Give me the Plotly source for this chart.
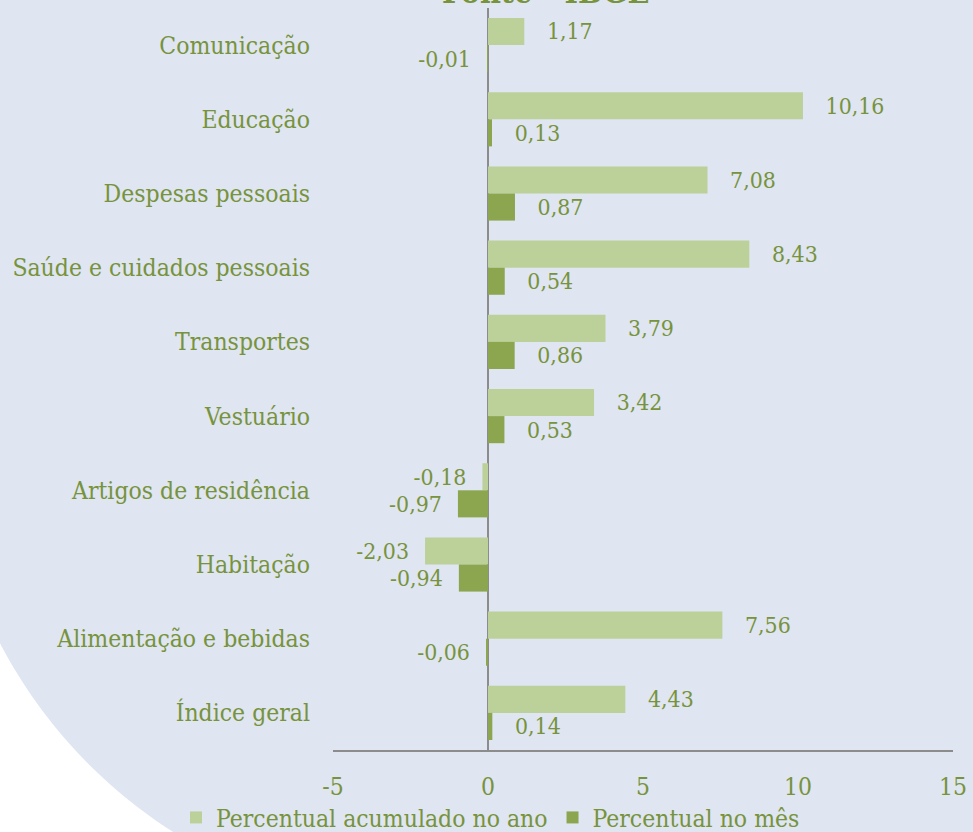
import math
import plotly.graph_objects as go

categories = ["Comunicação", "Educação", "Despesas pessoais", "Saúde e cuidados pessoais",
              "Transportes", "Vestuário", "Artigos de residência", "Habitação",
              "Alimentação e bebidas", "Índice geral"]
acumulado_ano = [1.17, 10.16, 7.08, 8.43, 3.79, 3.42, -0.18, -2.03, 7.56, 4.43]
mes = [-0.01, 0.13, 0.87, 0.54, 0.86, 0.53, -0.97, -0.94, -0.06, 0.14]
series_names = ["Percentual acumulado no ano", "Percentual no mês"]
x_ticks = [-5, 0, 5, 10, 15]
title_text = "Fonte - IBGE"

W, H = 973, 832
ML, MR, MT, MB = 333, 20, 8, 82
PW, PH = W - ML - MR, H - MT - MB

def px2x(px):
    return (px - ML) / PW

def py2y(py):
    return 1 - (py - MT) / PH

FONT = "DejaVu Serif Condensed, Liberation Serif, serif"
FS = 24.5
TXT = "#77933c"
C_LIGHT = "#bcd09a"
C_DARK = "#8ba64e"
BG = "#dfe5f1"

def fmt(v):
    s = f"{v:.2f}".replace(".", ",")
    return (s + "\u00a0\u00a0") if v < 0 else ("\u00a0\u00a0\u00a0" + s)

fig = go.Figure()
fig.add_trace(go.Bar(
    y=categories, x=acumulado_ano, orientation="h", name=series_names[0],
    marker=dict(color=C_LIGHT, line=dict(width=0)),
    text=[fmt(v) for v in acumulado_ano], textposition="outside",
    textfont=dict(family=FONT, size=FS, color=TXT), cliponaxis=False,
))
fig.add_trace(go.Bar(
    y=categories, x=mes, orientation="h", name=series_names[1],
    marker=dict(color=C_DARK, line=dict(width=0)),
    text=[fmt(v) for v in mes], textposition="outside",
    textfont=dict(family=FONT, size=FS, color=TXT), cliponaxis=False,
))

# white corner region (outside the large background circle)
cx, cy, r = 439, 414.5, 495
pts = []
for i in range(41):
    a = math.radians(156 - (156 - 117) * i / 40)
    pts.append((cx + r * math.cos(a), cy + r * math.sin(a)))
path = "M " + " L ".join(f"{px2x(x):.5f},{py2y(y):.5f}" for x, y in pts)
path += f" L {px2x(-20):.5f},{py2y(860):.5f} L {px2x(-20):.5f},{py2y(pts[0][1]):.5f} Z"
fig.add_shape(type="path", path=path, xref="paper", yref="paper",
              fillcolor="white", line=dict(width=0), layer="below")

fig.add_annotation(text="<b>" + title_text + "</b>", xref="paper", yref="paper",
                   x=px2x(545), y=py2y(13), xanchor="center", yanchor="bottom",
                   showarrow=False, font=dict(family=FONT, size=32, color=TXT))

fig.update_layout(
    width=W, height=H,
    margin=dict(l=ML, r=MR, t=MT, b=MB, pad=0, autoexpand=False),
    paper_bgcolor=BG, plot_bgcolor="rgba(0,0,0,0)",
    barmode="group", bargap=0.27, bargroupgap=0,
    font=dict(family=FONT, size=FS, color=TXT),
    showlegend=True,
    legend=dict(orientation="h", xref="paper", yref="paper",
                x=px2x(176), xanchor="left", y=py2y(795), yanchor="top",
                font=dict(family=FONT, size=FS, color=TXT),
                bgcolor="rgba(0,0,0,0)", itemwidth=30, tracegroupgap=0),
    xaxis=dict(range=[-5, 15], tickvals=x_ticks, ticktext=[str(t) for t in x_ticks],
               showgrid=False, zeroline=True, zerolinecolor="#8c8c8c", zerolinewidth=2,
               showline=True, linecolor="#8c8c8c", linewidth=2, ticks="",
               tickfont=dict(family=FONT, size=FS, color=TXT), ticklabelstandoff=14,
               fixedrange=True),
    yaxis=dict(autorange="reversed", showgrid=False, showline=False, zeroline=False,
               ticks="", tickfont=dict(family=FONT, size=FS, color=TXT),
               ticklabelstandoff=22, fixedrange=True),
)

fig.write_html("out.html", config={"displayModeBar": False},
               post_script="document.body.style.margin='0px';document.body.style.padding='0px';")
